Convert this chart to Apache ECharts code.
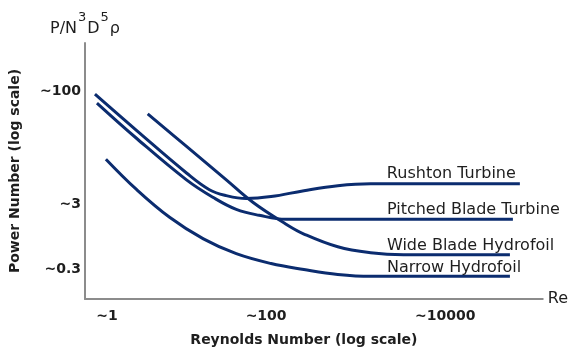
<!DOCTYPE html>
<html>
<head>
<meta charset="utf-8">
<script src="https://cdn.jsdelivr.net/npm/echarts@6/dist/echarts.min.js"></script>
<style>
  html, body { margin: 0; padding: 0; background: #fff; }
  #chart { width: 571px; height: 352px; }
</style>
</head>
<body>
<div id="chart"></div>
<script>
// Schematic power curve: power number vs Reynolds number (both log, no real units)
// x/y values are positions along the sketch axes, read off the reference

const X_TICKS = [22, 182, 362];
const X_TICK_LABELS = ["~1", "~100", "~10000"];
const Y_TICKS = [30, 96, 211];
const Y_TICK_LABELS = ["~0.3", "~3", "~100"];

const RUSHTON = [
  [10, 208], [52, 171], [102, 128], [125, 111], [142, 105], [162, 102],
  [187, 104], [220, 110], [254, 115], [287, 117], [357, 117], [437, 117],
];
const PITCHED = [
  [12, 199], [52, 163], [102, 121], [129, 103], [152, 91], [175, 85],
  [202, 81], [257, 81], [430, 81],
];
const WIDE_BLADE = [
  [63, 188], [102, 155], [142, 121], [169, 98], [202, 76], [220, 66],
  [254, 53], [287, 47], [320, 45], [427, 45],
];
const NARROW = [
  [21, 142], [52, 111], [85, 83], [119, 61], [152, 46], [187, 36],
  [220, 30], [254, 25], [287, 23], [427, 23],
];

const CURVES = [
  { name: "Rushton Turbine",        data: RUSHTON },
  { name: "Pitched Blade Turbine",  data: PITCHED },
  { name: "Wide Blade Hydrofoil",   data: WIDE_BLADE },
  { name: "Narrow Hydrofoil",       data: NARROW },
];

// where each name sits relative to the end of its curve (px)
const LABEL_OFFSET = {
  "Rushton Turbine":       [-141, -10],
  "Pitched Blade Turbine": [-134, -9],
  "Wide Blade Hydrofoil":  [-131, -9],
  "Narrow Hydrofoil":      [-131, -9],
};

const LINE_CLR = "#0b2c6f";
const AXIS_CLR = "#8c8c8c";
const TEXT_CLR = "#1e1e1e";
const FONT = "DejaVu Sans";

const chart = echarts.init(document.getElementById("chart"));

const series = CURVES.map(c => ({
  name: c.name, type: "line", data: c.data,
  symbol: "none", smooth: 0.4,
  lineStyle: { color: LINE_CLR, width: 3 },
  endLabel: {
    show: true, formatter: c.name, align: "left",
    offset: LABEL_OFFSET[c.name],
    color: TEXT_CLR, fontFamily: FONT, fontSize: 16,
  },
}));

const hiddenAxis = {
  type: "value", min: 0,
  axisLine: { show: false }, axisTick: { show: false },
  axisLabel: { show: false }, splitLine: { show: false },
};

chart.setOption({
  animation: false,
  backgroundColor: "#fff",
  grid: { left: 83, right: 28, top: 43, bottom: 49 },
  xAxis: [
    {
      type: "value", min: 0, max: 460,
      name: "Re", nameLocation: "end", nameGap: 5,
      nameTextStyle: { color: TEXT_CLR, fontFamily: FONT, fontSize: 16, verticalAlign: "middle" },
      axisLine: { show: true, lineStyle: { color: AXIS_CLR, width: 2 } },
      axisTick: { show: false }, splitLine: { show: false },
      axisLabel: {
        customValues: X_TICKS, margin: 10,
        formatter: v => X_TICK_LABELS[X_TICKS.indexOf(v)],
        color: TEXT_CLR, fontFamily: FONT, fontSize: 14, fontWeight: "bold",
      },
    },
    {
      ...hiddenAxis, max: 460, position: "bottom",
      name: "Reynolds Number (log scale)", nameLocation: "middle", nameGap: 34,
      nameTextStyle: { color: TEXT_CLR, fontFamily: FONT, fontSize: 14, fontWeight: "bold", padding: [0, 20, 0, 0] },
    },
  ],
  yAxis: [
    {
      type: "value", min: 0, max: 260,
      name: "{m|P/N}{s|3}{m|D}{s|5}{m|ρ}", nameLocation: "end", nameGap: 6,
      nameTextStyle: {
        color: TEXT_CLR, fontFamily: FONT, align: "center",
        rich: {
          m: { fontSize: 16, fontFamily: FONT, color: TEXT_CLR, lineHeight: 26, verticalAlign: "bottom" },
          s: { fontSize: 13, fontFamily: FONT, color: TEXT_CLR, lineHeight: 26, verticalAlign: "top", padding: [0, 1, 0, 1] },
        },
      },
      axisLine: { show: true, lineStyle: { color: AXIS_CLR, width: 2 } },
      axisTick: { show: false }, splitLine: { show: false },
      axisLabel: {
        customValues: Y_TICKS, margin: 4,
        formatter: v => Y_TICK_LABELS[Y_TICKS.indexOf(v)],
        color: TEXT_CLR, fontFamily: FONT, fontSize: 14, fontWeight: "bold",
      },
    },
    {
      ...hiddenAxis, max: 260, position: "left",
      name: "Power Number (log scale)", nameLocation: "middle", nameGap: 63,
      nameTextStyle: { color: TEXT_CLR, fontFamily: FONT, fontSize: 14, fontWeight: "bold" },
    },
  ],
  series,
});
</script>
</body>
</html>
